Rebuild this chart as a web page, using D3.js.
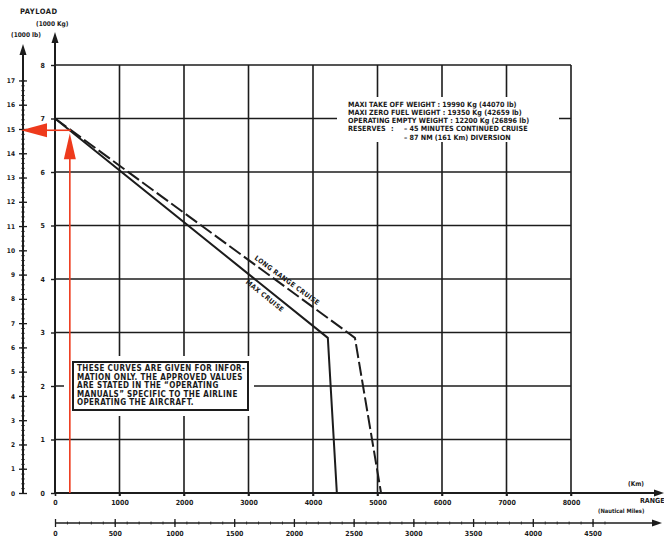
<!DOCTYPE html>
<html>
<head>
<meta charset="utf-8">
<script src="https://cdn.jsdelivr.net/npm/d3@7"></script>
<style>
  html, body { margin: 0; padding: 0; background: #fff; }
  svg { display: block; }
  text { font-family: "Liberation Sans Narrow", "DejaVu Sans Condensed", "Liberation Sans", sans-serif; font-weight: bold; fill: #1a1a1a; }
</style>
</head>
<body>
<svg id="chart" width="664" height="541"></svg>
<script>
// Payload / range diagram data
const kmTicks = [0, 1000, 2000, 3000, 4000, 5000, 6000, 7000, 8000];
const kgTicks = [0, 1, 2, 3, 4, 5, 6, 7, 8];
const lbTicks = d3.range(0, 18);
const nmTicks = [0, 500, 1000, 1500, 2000, 2500, 3000, 3500, 4000, 4500];

// Max cruise (solid) and long range cruise (dashed): range in km, payload in 1000 kg
const maxCruiseKm = [0, 4230, 4370];
const maxCruisePayload = [7.0, 2.9, 0];
const longRangeKm = [0, 4650, 5055];
const longRangePayload = [7.0, 2.9, 0];

// Worked example read-off (range km, payload 1000 kg)
const exampleRangeKm = 230;
const examplePayload = 6.78;

const weightNotes = [
  "MAXI TAKE OFF WEIGHT : 19990 Kg (44070 lb)",
  "MAXI ZERO FUEL WEIGHT : 19350 Kg (42659 lb)",
  "OPERATING EMPTY WEIGHT : 12200 Kg (26896 lb)"
];
const reserveNotes = ["– 45 MINUTES CONTINUED CRUISE", "– 87 NM (161 Km) DIVERSION"];
const disclaimer = [
  "THESE CURVES ARE GIVEN FOR INFOR-",
  "MATION ONLY. THE APPROVED VALUES",
  "ARE STATED IN THE \u201COPERATING",
  "MANUALS\u201D SPECIFIC TO THE AIRLINE",
  "OPERATING THE AIRCRAFT."
];

const KG_PER_LB = 0.45359237;
const KM_PER_NM = 1.852;

const svg = d3.select("#chart");
const ink = "#1c1c1c";
const red = "#ee3a1c";

const x = d3.scaleLinear().domain([0, 8000]).range([55, 571]);
const y = d3.scaleLinear().domain([0, 8]).range([493, 65]);
const yLb = d3.scaleLinear().domain([0, 8 / KG_PER_LB]).range([493, 65]);
const xNm = d3.scaleLinear().domain([0, 8000 / KM_PER_NM]).range([55, 571]);

// Grid
const grid = svg.append("g").attr("stroke", ink).attr("stroke-width", 1.6);
grid.selectAll("line.h").data(kgTicks.filter(d => d > 0)).join("line")
  .attr("x1", x(0)).attr("x2", x(8000))
  .attr("y1", d => y(d)).attr("y2", d => y(d));
grid.selectAll("line.v").data(kmTicks.filter(d => d > 0)).join("line")
  .attr("x1", d => x(d)).attr("x2", d => x(d))
  .attr("y1", y(0) + 3).attr("y2", y(8));

// Weight notes panel (white backing over the grid)
svg.append("rect").attr("x", 337).attr("y", 97).attr("width", 222).attr("height", 45).attr("fill", "#fff");
const notes = svg.append("g").attr("font-size", 7.2);
weightNotes.forEach((t, i) => notes.append("text").attr("x", 348).attr("y", 107 + i * 8).text(t));
notes.append("text").attr("x", 348).attr("y", 131).text("RESERVES");
notes.append("text").attr("x", 391).attr("y", 131).text(":");
reserveNotes.forEach((t, i) => notes.append("text").attr("x", 404).attr("y", 131 + i * 8.5).text(t));

// Disclaimer box
svg.append("rect").attr("x", 64).attr("y", 356).attr("width", 190).attr("height", 60).attr("fill", "#fff");
svg.append("rect").attr("x", 73).attr("y", 362).attr("width", 175).attr("height", 48)
  .attr("fill", "#fff").attr("stroke", ink).attr("stroke-width", 2);
const disc = svg.append("g").attr("font-size", 8).attr("letter-spacing", 0.35);
disclaimer.forEach((t, i) => disc.append("text").attr("x", 77).attr("y", 371 + i * 8.5).text(t));

// Arrowhead helper
function arrow(tipX, tipY, dir, len, half, fill) {
  let pts;
  if (dir === "up") pts = [[tipX, tipY], [tipX - half, tipY + len], [tipX + half, tipY + len]];
  else if (dir === "right") pts = [[tipX, tipY], [tipX - len, tipY - half], [tipX - len, tipY + half]];
  else pts = [[tipX, tipY], [tipX + len, tipY - half], [tipX + len, tipY + half]];
  svg.append("path").attr("d", d3.line()(pts) + "Z").attr("fill", fill);
}

// Km axis (bottom of the grid)
const kmAxis = svg.append("g").attr("transform", `translate(0,${y(0)})`)
  .call(d3.axisBottom(x).tickValues(kmTicks).tickSize(3).tickPadding(4).tickFormat(d3.format("d")));
kmAxis.select(".domain").remove();
kmAxis.selectAll(".tick line").attr("stroke", ink).attr("stroke-width", 1.6);
kmAxis.selectAll(".tick text").attr("font-size", 7).attr("font-family", null).attr("fill", ink);
svg.append("line").attr("x1", x(0)).attr("x2", 656).attr("y1", y(0)).attr("y2", y(0))
  .attr("stroke", ink).attr("stroke-width", 2);
arrow(664, y(0), "right", 10, 3.5, ink);

// Kg axis
const kgAxis = svg.append("g").attr("transform", `translate(${x(0)},0)`)
  .call(d3.axisLeft(y).tickValues(kgTicks).tickSize(4).tickPadding(6).tickFormat(d3.format("d")));
kgAxis.select(".domain").remove();
kgAxis.selectAll(".tick line").attr("stroke", ink).attr("stroke-width", 1.4);
kgAxis.selectAll(".tick text").attr("font-size", 7).attr("font-family", null).attr("fill", ink);
svg.append("line").attr("x1", x(0)).attr("x2", x(0)).attr("y1", y(0)).attr("y2", 42)
  .attr("stroke", ink).attr("stroke-width", 2);
arrow(x(0), 32, "up", 11, 3.5, ink);

// Lb axis
const lbX = 23;
const lbMinor = svg.append("g").attr("transform", `translate(${lbX},0)`)
  .call(d3.axisLeft(yLb).tickValues(d3.range(0, 17.01, 0.2)).tickSize(0).tickFormat(""));
lbMinor.select(".domain").remove();
lbMinor.selectAll(".tick line").attr("x1", -1.8).attr("x2", 1.8).attr("stroke", ink).attr("stroke-width", 0.8);
const lbAxis = svg.append("g").attr("transform", `translate(${lbX},0)`)
  .call(d3.axisLeft(yLb).tickValues(lbTicks).tickSize(4).tickPadding(4).tickFormat(d3.format("d")));
lbAxis.select(".domain").remove();
lbAxis.selectAll(".tick line").attr("x1", -4).attr("x2", 4).attr("stroke", ink).attr("stroke-width", 1.3);
lbAxis.selectAll(".tick text").attr("font-size", 6.5).attr("font-family", null).attr("fill", ink);
svg.append("line").attr("x1", lbX).attr("x2", lbX).attr("y1", y(0)).attr("y2", 54)
  .attr("stroke", ink).attr("stroke-width", 2);
arrow(lbX, 44, "up", 11, 3.5, ink);

// Nautical miles axis
const nmY = 523;
const nmMinor = svg.append("g").attr("transform", `translate(0,${nmY})`)
  .call(d3.axisBottom(xNm).tickValues(d3.range(0, 4700, 100)).tickSize(0).tickFormat(""));
nmMinor.select(".domain").remove();
nmMinor.selectAll(".tick line").attr("y1", -1.5).attr("y2", 1.5).attr("stroke", ink).attr("stroke-width", 0.8);
const nmAxis = svg.append("g").attr("transform", `translate(0,${nmY})`)
  .call(d3.axisBottom(xNm).tickValues(nmTicks).tickSize(4).tickPadding(4).tickFormat(d3.format("d")));
nmAxis.select(".domain").remove();
nmAxis.selectAll(".tick line").attr("y1", -4).attr("y2", 4).attr("stroke", ink).attr("stroke-width", 1.3);
nmAxis.selectAll(".tick text").attr("font-size", 7).attr("font-family", null).attr("fill", ink);
svg.append("line").attr("x1", x(0)).attr("x2", 654).attr("y1", nmY).attr("y2", nmY)
  .attr("stroke", ink).attr("stroke-width", 1.6);
arrow(662, nmY, "right", 10, 3.5, ink);

// Axis titles
svg.append("text").attr("x", 20).attr("y", 14).attr("font-size", 7.5).attr("letter-spacing", 0.5).text("PAYLOAD");
svg.append("text").attr("x", 36).attr("y", 26).attr("font-size", 6.5).text("(1000 Kg)");
svg.append("text").attr("x", 11).attr("y", 37).attr("font-size", 6.5).text("(1000 lb)");
svg.append("text").attr("x", 628).attr("y", 486).attr("font-size", 6.5).text("(Km)");
svg.append("text").attr("x", 640).attr("y", 503).attr("font-size", 7).text("RANGE");
svg.append("text").attr("x", 598).attr("y", 513).attr("font-size", 5.8).text("(Nautical Miles)");

// Curves
const curve = d3.line().x(d => x(d[0])).y(d => y(d[1]));
const maxPts = maxCruiseKm.map((k, i) => [k, maxCruisePayload[i]]);
const lrcPts = longRangeKm.map((k, i) => [k, longRangePayload[i]]);
svg.append("path").attr("d", curve(lrcPts)).attr("fill", "none").attr("stroke", ink)
  .attr("stroke-width", 2).attr("stroke-dasharray", "14,4");
svg.append("path").attr("d", curve(maxPts)).attr("fill", "none").attr("stroke", ink).attr("stroke-width", 2);

// Curve labels, laid along the first segment of each curve
function curveLabel(pts, km, offset, label) {
  const [a, b] = pts;
  const t = (km - a[0]) / (b[0] - a[0]);
  const px = x(km), py = y(a[1] + t * (b[1] - a[1]));
  const ang = Math.atan2(y(b[1]) - y(a[1]), x(b[0]) - x(a[0])) * 180 / Math.PI;
  svg.append("text").attr("transform", `translate(${px},${py}) rotate(${ang})`)
    .attr("y", offset).attr("text-anchor", "middle").attr("font-size", 6.8)
    .attr("letter-spacing", 0.4).text(label);
}
curveLabel(lrcPts, 3540, -4, "LONG RANGE CRUISE");
curveLabel(maxPts, 3320, 9, "MAX CRUISE");

// Read-off example: up from the range axis, across to the lb scale
const exX = x(exampleRangeKm), exY = y(examplePayload);
svg.append("line").attr("x1", exX).attr("x2", exX).attr("y1", y(0)).attr("y2", exY + 26)
  .attr("stroke", red).attr("stroke-width", 1.6);
arrow(exX, exY + 3, "up", 26, 6, red);
svg.append("line").attr("x1", exX + 1).attr("x2", 46).attr("y1", exY).attr("y2", exY)
  .attr("stroke", red).attr("stroke-width", 1.6);
arrow(lbX - 2, exY, "left", 26, 7, red);
</script>
</body>
</html>
